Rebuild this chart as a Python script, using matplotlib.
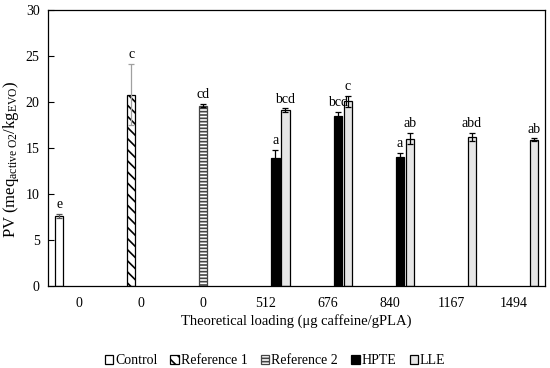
import numpy as np
import matplotlib
matplotlib.use("Agg")
import matplotlib.pyplot as plt

plt.rcParams['font.family'] = 'Liberation Serif'
plt.rcParams['mathtext.fontset'] = 'custom'
plt.rcParams['mathtext.rm'] = 'Liberation Serif'
plt.rcParams['mathtext.it'] = 'Liberation Serif:italic'
plt.rcParams['hatch.linewidth'] = 1.2

categories = ['0', '0', '0', '512', '676', '840', '1167', '1494']
series = ['Control', 'Reference 1', 'Reference 2', 'HPTE', 'LLE']

# value per category (nan = no bar)
nan = np.nan
values = {
    'Control':     [7.6, nan, nan, nan, nan, nan, nan, nan],
    'Reference 1': [nan, 20.8, nan, nan, nan, nan, nan, nan],
    'Reference 2': [nan, nan, 19.6, nan, nan, nan, nan, nan],
    'HPTE':        [nan, nan, nan, 13.9, 18.5, 14.0, nan, nan],
    'LLE':         [nan, nan, nan, 19.1, 20.1, 16.0, 16.2, 15.9],
}
errors = {
    'Control':     [0.2, 0, 0, 0, 0, 0, 0, 0],
    'Reference 1': [0, 3.3, 0, 0, 0, 0, 0, 0],
    'Reference 2': [0, 0, 0.2, 0, 0, 0, 0, 0],
    'HPTE':        [0, 0, 0, 0.9, 0.4, 0.5, 0, 0],
    'LLE':         [0, 0, 0, 0.2, 0.6, 0.6, 0.4, 0.15],
}
letters = {
    'Control':     ['e', '', '', '', '', '', '', ''],
    'Reference 1': ['', 'c', '', '', '', '', '', ''],
    'Reference 2': ['', '', 'cd', '', '', '', '', ''],
    'HPTE':        ['', '', '', 'a', 'bcd', 'a', '', ''],
    'LLE':         ['', '', '', 'bcd', 'c', 'ab', 'abd', 'ab'],
}

styles = {
    'Control':     dict(facecolor='white', edgecolor='black', hatch=None),
    'Reference 1': dict(facecolor='white', edgecolor='black', hatch='\\\\\\'),
    'Reference 2': dict(facecolor='white', edgecolor='#444444', hatch='-----'),
    'HPTE':        dict(facecolor='black', edgecolor='black', hatch=None),
    'LLE':         dict(facecolor='#e6e6e6', edgecolor='black', hatch=None),
}
errcol = {'Control': '#555555', 'Reference 1': '#a0a0a0', 'Reference 2': 'black',
          'HPTE': 'black', 'LLE': 'black'}

fig = plt.figure(figsize=(5.5, 3.68), dpi=100)
ax = fig.add_axes([0.0873, 0.2228, 0.9037, 0.7502])

x = np.arange(len(categories))
step = 0.161
width = 0.13
for i, s in enumerate(series):
    v = np.array(values[s], dtype=float)
    e = np.array(errors[s], dtype=float)
    pos = x + (i - 2) * step
    m = ~np.isnan(v)
    st = styles[s]
    ax.bar(pos[m], v[m], width, facecolor=st['facecolor'], edgecolor=st['edgecolor'],
           hatch=st['hatch'], linewidth=0.9, label=s, zorder=2)
    ax.errorbar(pos[m], v[m], yerr=e[m], fmt='none', ecolor=errcol[s],
                elinewidth=0.9, capsize=2.5, capthick=0.9, zorder=3)
    for p, val, err, lab in zip(pos[m], v[m], e[m], np.array(letters[s])[m]):
        if lab:
            ax.annotate(lab, (p, val + err), xytext=(0, 2), textcoords='offset points',
                        ha='center', va='bottom', fontsize=10)

ax.set_xlim(-0.5, len(categories) - 0.5)
ax.set_ylim(0, 30)
ax.set_yticks(np.arange(0, 31, 5))
ax.set_xticks(x)
ax.set_xticklabels(categories)
ax.tick_params(axis='x', length=0, pad=8, labelsize=10)
ax.tick_params(axis='y', direction='in', length=4, pad=6, labelsize=10)
for sp in ax.spines.values():
    sp.set_linewidth(0.9)

ax.set_xlabel('Theoretical loading (\u03bcg caffeine/gPLA)', fontsize=10.5, labelpad=3)
ax.set_ylabel(r'PV (meq$_{\mathrm{active\ O2}}$/kg$_{\mathrm{EVO}}$)', fontsize=12)
ax.yaxis.set_label_coords(-0.054, 0.46)

fig.legend(loc='center', bbox_to_anchor=(0.5, 0.02), ncol=5, frameon=False,
           fontsize=10, handlelength=0.6, handleheight=0.6, handletextpad=0.15,
           columnspacing=0.95, borderpad=0)

fig.savefig('out.png', dpi=100)
